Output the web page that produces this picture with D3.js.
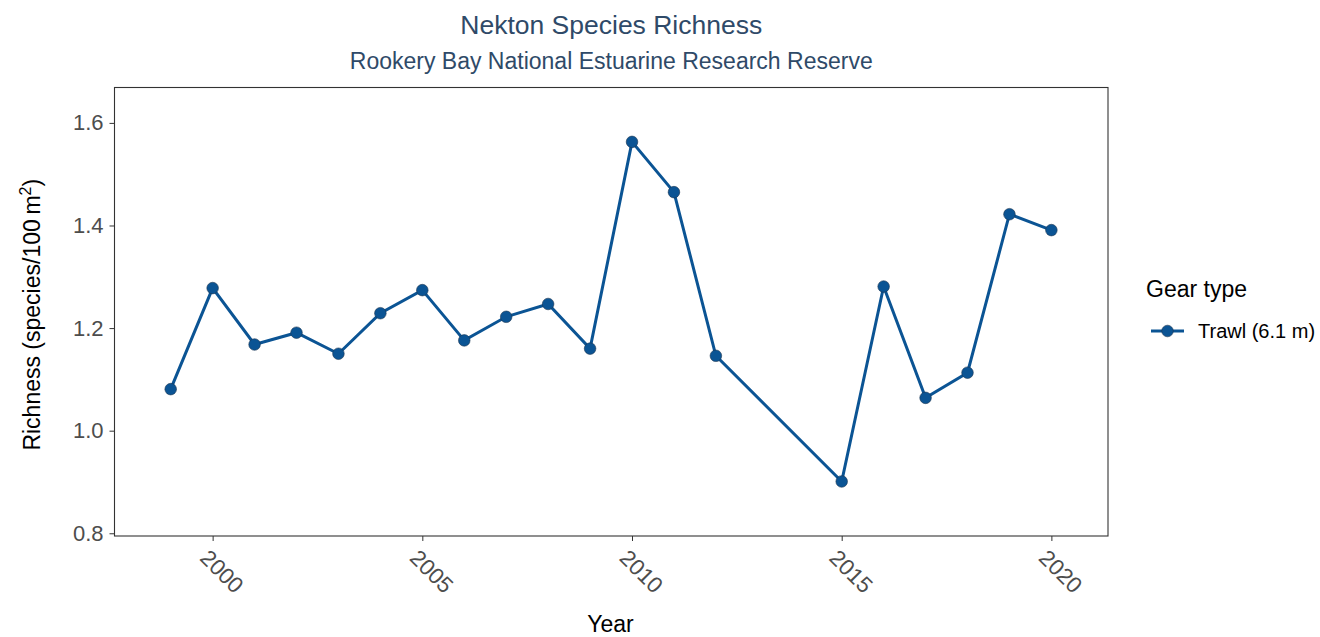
<!DOCTYPE html>
<html><head><meta charset="utf-8">
<script src="https://cdn.jsdelivr.net/npm/d3@7"></script>
<style>body{margin:0;background:#fff}svg{font-family:"Liberation Sans",Arial,sans-serif}</style>
</head><body>
<svg id="chart" width="1320" height="637"></svg>
<script>
const years = [1999,2000,2001,2002,2003,2004,2005,2006,2007,2008,2009,2010,2011,2012,2015,2016,2017,2018,2019,2020];
const richness = [1.081,1.278,1.168,1.191,1.150,1.229,1.274,1.176,1.222,1.247,1.160,1.563,1.465,1.146,0.901,1.281,1.064,1.113,1.422,1.391];
const xTicks = [2000,2005,2010,2015,2020];
const yTicks = [0.8,1.0,1.2,1.4,1.6];
const seriesName = "Trawl (6.1 m)";
const color = "#0b5494";

const svg = d3.select("#chart");
const L=114.5, R=1108, T=87.5, B=536;
const x = d3.scaleLinear().domain([1997.66, 2021.35]).range([L,R]);
const y = d3.scaleLinear().domain([0.7947, 1.669]).range([B,T]);

// titles
svg.append("text").attr("x",(L+R)/2).attr("y",33.5).attr("text-anchor","middle")
  .attr("font-size",26.5).attr("fill","#2f4a68").text("Nekton Species Richness");
svg.append("text").attr("x",(L+R)/2).attr("y",69).attr("text-anchor","middle")
  .attr("font-size",23).attr("fill","#2f4a68").text("Rookery Bay National Estuarine Research Reserve");

// axes
const xAxis = svg.append("g").attr("transform",`translate(0,${B})`)
  .call(d3.axisBottom(x).tickValues(xTicks).tickFormat(d3.format("d")).tickSize(5).tickPadding(4));
xAxis.select(".domain").remove();
xAxis.selectAll(".tick line").attr("stroke","#333");
xAxis.selectAll(".tick text").attr("font-size",22.5).attr("fill","#4d4d4d")
  .attr("text-anchor","start").attr("dy",null).attr("y",0)
  .attr("transform","translate(-3,12) rotate(45)").attr("dominant-baseline","hanging");

const yAxis = svg.append("g").attr("transform",`translate(${L},0)`)
  .call(d3.axisLeft(y).tickValues(yTicks).tickFormat(d3.format(".1f")).tickSize(5).tickPadding(6));
yAxis.select(".domain").remove();
yAxis.selectAll(".tick line").attr("stroke","#333");
yAxis.selectAll(".tick text").attr("font-size",22).attr("fill","#4d4d4d");

// panel border
svg.append("rect").attr("x",L).attr("y",T).attr("width",R-L).attr("height",B-T)
  .attr("fill","none").attr("stroke","#333").attr("stroke-width",1.1);

// axis titles
svg.append("text").attr("x",610.5).attr("y",632).attr("text-anchor","middle")
  .attr("font-size",23).attr("fill","#000").text("Year");
const yt = svg.append("text").attr("transform",`translate(40,${(T+B)/2 + 3}) rotate(-90)`)
  .attr("text-anchor","middle").attr("font-size",23).attr("fill","#000");
yt.append("tspan").text("Richness (species/100\u2009m");
yt.append("tspan").attr("font-size",16).attr("dy",-9).text("2");
yt.append("tspan").attr("dy",9).text(")");

// line + points
const data = years.map((yr,i)=>({yr, v:richness[i]}));
svg.append("path").datum(data).attr("fill","none").attr("stroke",color).attr("stroke-width",3)
  .attr("d", d3.line().x(d=>x(d.yr)).y(d=>y(d.v)));
svg.selectAll("circle.pt").data(data).join("circle").attr("class","pt")
  .attr("cx",d=>x(d.yr)).attr("cy",d=>y(d.v)).attr("r",5.8)
  .attr("fill",color).attr("stroke","#1d3550").attr("stroke-width",0.6);

// legend
svg.append("text").attr("x",1146).attr("y",297).attr("font-size",23).attr("fill","#000").text("Gear type");
svg.append("line").attr("x1",1151).attr("x2",1184).attr("y1",331).attr("y2",331)
  .attr("stroke",color).attr("stroke-width",3);
svg.append("circle").attr("cx",1167.5).attr("cy",331).attr("r",5.8).attr("fill",color)
  .attr("stroke","#1d3550").attr("stroke-width",0.6);
svg.append("text").attr("x",1198).attr("y",338).attr("font-size",20).attr("fill","#000").text(seriesName);
</script>
</body></html>
